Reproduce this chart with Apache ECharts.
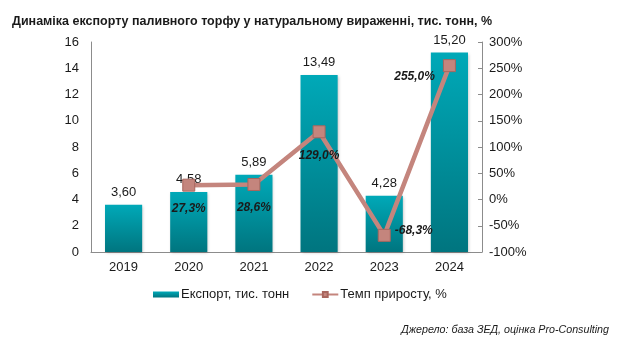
<!DOCTYPE html>
<html><head><meta charset="utf-8">
<script src="https://cdn.jsdelivr.net/npm/echarts@6/dist/echarts.min.js"></script>
<style>html,body{margin:0;padding:0;background:#fff}#c{width:620px;height:342px}</style>
</head><body><div id="c"></div>
<script>
const categories = ['2019','2020','2021','2022','2023','2024'];
const exportValues = [3.60, 4.58, 5.89, 13.49, 4.28, 15.20];
const growthValues = [null, 27.3, 28.6, 129.0, -68.3, 255.0];
const leftTicks = [0, 2, 4, 6, 8, 10, 12, 14, 16];
const rightTicks = [-100, -50, 0, 50, 100, 150, 200, 250, 300];
const labelPositions = [null, 'bottom', 'bottom', 'bottom', 'right', 'left'];

const fmt = (v, d) => v.toFixed(d).replace('.', ',');
const font = 'Liberation Sans, Arial, sans-serif';
const labelOffsets = { bottom: [0, 0], right: [-4, -5], left: [0, 11] };
const chart = echarts.init(document.getElementById('c'));
chart.setOption({
  animation: false,
  textStyle: { fontFamily: font },
  title: {
    text: 'Динаміка експорту паливного торфу у натуральному вираженні, тис. тонн, %',
    left: 7, top: 10,
    textStyle: { fontFamily: font, fontSize: 12.5, fontWeight: 'bold', color: '#1a1a1a' }
  },
  graphic: [{
    type: 'text', right: 11, top: 325,
    style: { text: 'Джерело: база ЗЕД, оцінка Pro-Consulting', font: 'italic 10.7px ' + font, fill: '#1a1a1a' }
  }],
  legend: {
    bottom: 36, left: 148, itemGap: 22, itemWidth: 26, itemHeight: 6,
    textStyle: { fontFamily: font, fontSize: 13, color: '#1a1a1a', padding: [0, 0, 0, -3] },
    data: [
      { name: 'Експорт, тис. тонн', icon: 'rect' },
      { name: 'Темп приросту, %' }
    ]
  },
  grid: { left: 91, right: 138, top: 42, bottom: 90 },
  xAxis: {
    type: 'category', data: categories,
    axisLine: { lineStyle: { color: '#8c8c8c' } },
    axisTick: { show: false },
    axisLabel: { fontSize: 13, color: '#1a1a1a', margin: 9 }
  },
  yAxis: [{
    type: 'value', min: leftTicks[0], max: leftTicks[leftTicks.length - 1], interval: 2,
    axisLine: { show: true, lineStyle: { color: '#8c8c8c' } },
    axisTick: { show: false }, splitLine: { show: false },
    axisLabel: { fontSize: 13, color: '#1a1a1a', margin: 12 }
  }, {
    type: 'value', min: rightTicks[0], max: rightTicks[rightTicks.length - 1], interval: 50,
    position: 'right',
    axisLine: { show: true, lineStyle: { color: '#8c8c8c' } },
    axisTick: { show: true, inside: true, length: 4, lineStyle: { color: '#8c8c8c' } },
    splitLine: { show: false },
    axisLabel: { fontSize: 13, color: '#1a1a1a', margin: 7, formatter: v => v + '%' }
  }],
  series: [{
    name: 'Експорт, тис. тонн', type: 'bar', data: exportValues, barWidth: '57%',
    itemStyle: {
      color: new echarts.graphic.LinearGradient(0, 0, 0, 1, [
        { offset: 0, color: '#00a9b8' }, { offset: 1, color: '#00757f' }
      ]),
      shadowColor: 'rgba(0,0,0,0.25)', shadowBlur: 3, shadowOffsetX: 1, shadowOffsetY: 1
    },
    label: { show: true, position: 'top', distance: 6, fontSize: 13, color: '#1a1a1a', formatter: p => fmt(p.value, 2) }
  }, {
    name: 'Темп приросту, %', type: 'line', yAxisIndex: 1,
    data: growthValues.map((v, i) => v === null ? null : {
      value: v,
      label: {
        position: labelPositions[i],
        distance: labelPositions[i] === 'bottom' ? 11 : 8,
        offset: labelOffsets[labelPositions[i]]
      }
    }),
    connectNulls: false,
    symbol: 'rect', symbolSize: 12,
    lineStyle: { color: '#c4857d', width: 4.5 },
    itemStyle: { color: '#c4857d', borderColor: '#a8665e', borderWidth: 1 },
    label: {
      show: true, fontSize: 12, fontWeight: 'bold', fontStyle: 'italic', color: '#1a1a1a',
      formatter: p => fmt(p.value, 1) + '%'
    }
  }]
});
</script></body></html>
